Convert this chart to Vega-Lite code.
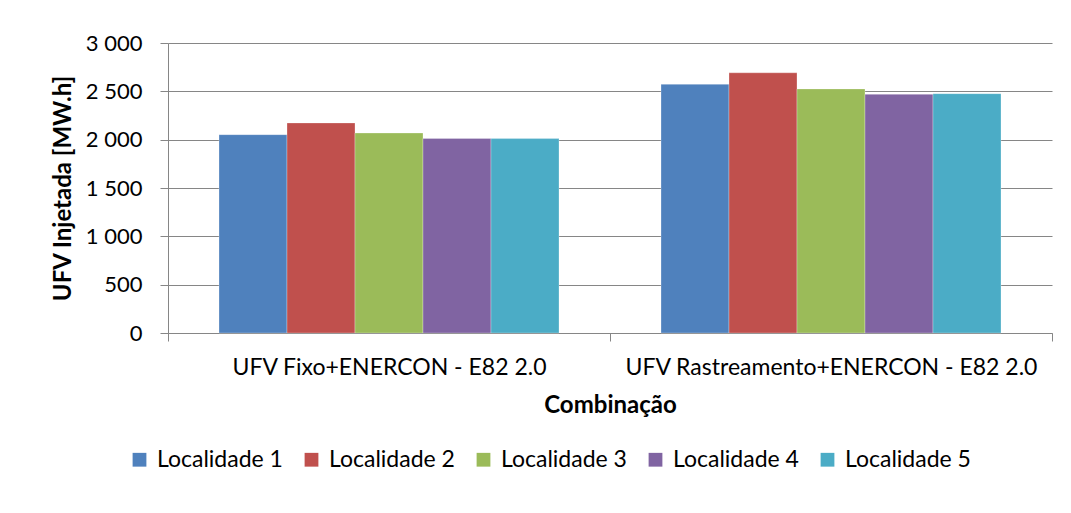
{
  "$schema": "https://vega.github.io/schema/vega-lite/v6.json",
  "width": 884,
  "height": 290,
  "autosize": "none",
  "padding": {"left": 168, "top": 43, "right": 19, "bottom": 180},
  "background": "white",
  "data": {
    "values": [
      {"Combinacao": "UFV Fixo+ENERCON - E82 2.0", "Localidade": "Localidade 1", "Valor": 2052},
      {"Combinacao": "UFV Fixo+ENERCON - E82 2.0", "Localidade": "Localidade 2", "Valor": 2173},
      {"Combinacao": "UFV Fixo+ENERCON - E82 2.0", "Localidade": "Localidade 3", "Valor": 2069},
      {"Combinacao": "UFV Fixo+ENERCON - E82 2.0", "Localidade": "Localidade 4", "Valor": 2013},
      {"Combinacao": "UFV Fixo+ENERCON - E82 2.0", "Localidade": "Localidade 5", "Valor": 2011},
      {"Combinacao": "UFV Rastreamento+ENERCON - E82 2.0", "Localidade": "Localidade 1", "Valor": 2573},
      {"Combinacao": "UFV Rastreamento+ENERCON - E82 2.0", "Localidade": "Localidade 2", "Valor": 2692},
      {"Combinacao": "UFV Rastreamento+ENERCON - E82 2.0", "Localidade": "Localidade 3", "Valor": 2525},
      {"Combinacao": "UFV Rastreamento+ENERCON - E82 2.0", "Localidade": "Localidade 4", "Valor": 2469},
      {"Combinacao": "UFV Rastreamento+ENERCON - E82 2.0", "Localidade": "Localidade 5", "Valor": 2476}
    ]
  },
  "mark": {"type": "bar", "stroke": "#ffffff", "strokeOpacity": 0.4, "strokeWidth": 0.7},
  "encoding": {
    "x": {
      "field": "Combinacao",
      "type": "nominal",
      "sort": null,
      "scale": {"paddingInner": 0, "paddingOuter": 0},
      "axis": {
        "title": "Combinação",
        "labelAngle": 0,
        "labelLimit": 0,
        "tickBand": "extent",
        "grid": false,
        "domainColor": "#868686",
        "tickColor": "#868686",
        "tickSize": 8,
        "labelPadding": 15,
        "labelFontSize": 23,
        "labelColor": "#000000",
        "titleFontSize": 24,
        "titleFontWeight": "bold",
        "titleColor": "#000000",
        "titlePadding": 14
      }
    },
    "xOffset": {"field": "Localidade", "type": "nominal", "scale": {"paddingInner": 0, "paddingOuter": 0.75}},
    "y": {
      "field": "Valor",
      "type": "quantitative",
      "scale": {"domain": [0, 3000]},
      "axis": {
        "title": "UFV Injetada [MW.h]",
        "values": [0, 500, 1000, 1500, 2000, 2500, 3000],
        "labelExpr": "replace(format(datum.value, ','), ',', ' ')",
        "grid": true,
        "gridColor": "#868686",
        "gridWidth": 1,
        "domainColor": "#868686",
        "tickColor": "#868686",
        "tickSize": 8,
        "labelPadding": 18,
        "labelFontSize": 22,
        "labelColor": "#000000",
        "titleFontSize": 24,
        "titleFontWeight": "bold",
        "titleColor": "#000000",
        "titlePadding": 10
      }
    },
    "color": {
      "field": "Localidade",
      "type": "nominal",
      "scale": {
        "domain": ["Localidade 1", "Localidade 2", "Localidade 3", "Localidade 4", "Localidade 5"],
        "range": ["#4F81BD", "#C0504D", "#9BBB59", "#8064A2", "#4BACC6"]
      },
      "legend": {
        "title": null,
        "orient": "none",
        "direction": "horizontal",
        "legendX": -40,
        "legendY": 405,
        "symbolType": "square",
        "symbolSize": 190,
        "symbolStrokeWidth": 0,
        "labelFontSize": 23,
        "labelColor": "#000000",
        "labelOffset": 6,
        "columnPadding": 17
      }
    }
  },
  "config": {
    "font": "Lato",
    "view": {"stroke": null},
    "axis": {"labelFont": "Lato", "titleFont": "Lato"},
    "legend": {"labelFont": "Lato"}
  }
}
